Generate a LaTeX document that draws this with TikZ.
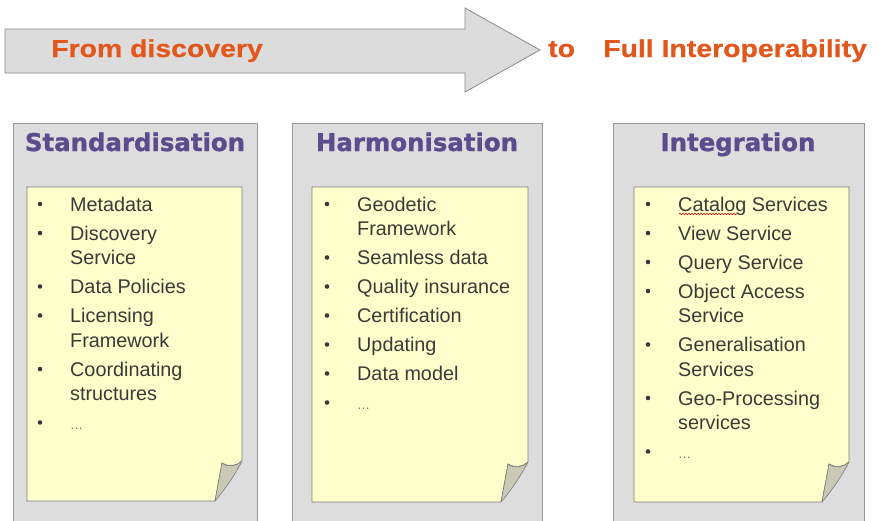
\documentclass[tikz,border=0pt]{standalone}
\usepackage{fontspec}
\setmainfont{Liberation Sans}
\newfontfamily\bannerfont[FakeStretch=1.16,FakeBold=0.6]{Liberation Sans}
\newfontfamily\titlefont[FakeBold=1.3]{DejaVu Sans}
\usetikzlibrary{decorations.pathmorphing}
\definecolor{arrowfill}{HTML}{DCDCDC}
\definecolor{arrowborder}{HTML}{8A8A8A}
\definecolor{orangetxt}{HTML}{E2581C}
\definecolor{panelfill}{HTML}{DDDDDD}
\definecolor{panelborder}{HTML}{9A9A9A}
\definecolor{titlecol}{HTML}{5C4C8E}
\definecolor{notefill}{HTML}{FFFFCC}
\definecolor{noteborder}{HTML}{7A7A7A}
\definecolor{flapfill}{HTML}{C9C9B6}
\definecolor{itemcol}{HTML}{3A3A3A}
\newcommand\stickynote[4]{%
  \path[note] (#1,#2) -- (#3,#2) -- (#3,#4-40)
     .. controls (#3-5,#4-35) and (#3-14,#4-34) .. (#3-20,#4-38)
     -- (#3-27,#4) -- (#1,#4) -- cycle;
  \path[flap] (#3-20,#4-38) .. controls (#3-14,#4-33) and (#3-5,#4-35) .. (#3,#4-40)
     .. controls (#3-7,#4-26) and (#3-19,#4-9) .. (#3-27,#4) -- cycle;
}
\begin{document}
\begin{tikzpicture}[x=1pt,y=-1pt,
  banner/.style={draw=arrowborder, fill=arrowfill, line width=0.8pt, line join=miter},
  bannertext/.style={font=\bannerfont\bfseries\fontsize{24.5}{28}\selectfont, text=orangetxt, inner sep=0pt, anchor=base west},
  panel/.style={draw=panelborder, fill=panelfill, line width=0.8pt},
  title/.style={font=\titlefont\bfseries\fontsize{24.4}{28}\selectfont, text=titlecol, inner sep=0pt, anchor=base},
  note/.style={draw=noteborder, fill=notefill, line width=0.6pt},
  flap/.style={draw=noteborder, fill=flapfill, line width=0.6pt, line join=round},
  dot/.style={circle, fill=itemcol, inner sep=0pt, minimum size=4.6pt},
  itm/.style={font=\fontsize{19.8}{24}\selectfont, text=itemcol, inner sep=0pt, anchor=base west}
]
\useasboundingbox (0,0) rectangle (879,520);
\clip (0,0) rectangle (879,520);
\fill[white] (0,0) rectangle (879,520);

% banner arrow
\path[banner] (5,29) -- (465,29) -- (465,8) -- (540,50) -- (465,92) -- (465,73) -- (5,73) -- cycle;
\node[bannertext] (from) at (51,57) {From discovery};
\node[bannertext] (to) at (548,57) {to};
\node[bannertext] (full) at (603,57) {Full Interoperability};

% panels
\path[panel] (13,123) rectangle (257,530);
\path[panel] (292,123) rectangle (542,530);
\path[panel] (613,123) rectangle (864,530);

\node[title] (t1) at (135,151) {Standardisation};
\node[title] (t2) at (417,151) {Harmonisation};
\node[title] (t3) at (738,151) {Integration};

\stickynote{27}{187}{242}{501}
\stickynote{312}{187}{528}{502}
\stickynote{634}{187}{849}{502}

% panel 1 items
\foreach \y/\n in {211/a1,240/a2,293.5/a3,322.5/a4,376/a5,429.5/a6}
  \node[dot] (b\n) at (40,\y-7) {};
\node[itm] (i1a) at (70,211) {Metadata};
\node[itm] (i1b) at (70,240) {Discovery};
\node[itm] (i1c) at (70,264.5) {Service};
\node[itm] (i1d) at (70,293.5) {Data Policies};
\node[itm] (i1e) at (70,322.5) {Licensing};
\node[itm] (i1f) at (70,347) {Framework};
\node[itm] (i1g) at (70,376) {Coordinating};
\node[itm] (i1h) at (70,400.5) {structures};
\node[itm, text=itemcol!70] (i1i) at (70,429.5) {\fontsize{13}{14}\selectfont\dots};

% panel 2 items
\foreach \y/\n in {211/c1,264.5/c2,293.5/c3,322.5/c4,351.5/c5,380.5/c6,409.5/c7}
  \node[dot] (b\n) at (327,\y-7) {};
\node[itm] (i2a) at (357,211) {Geodetic};
\node[itm] (i2b) at (357,235.5) {Framework};
\node[itm] (i2c) at (357,264.5) {Seamless data};
\node[itm] (i2d) at (357,293.5) {Quality insurance};
\node[itm] (i2e) at (357,322.5) {Certification};
\node[itm] (i2f) at (357,351.5) {Updating};
\node[itm] (i2g) at (357,380.5) {Data model};
\node[itm, text=itemcol!70] (i2h) at (357,409.5) {\fontsize{13}{14}\selectfont\dots};

% panel 3 items
\foreach \y/\n in {211/e1,240/e2,269/e3,298/e4,351.5/e5,405/e6,458.5/e7}
  \node[dot] (b\n) at (648,\y-7) {};
\node[itm] (i3a) at (678,211) {Catalog Services};
\node[itm] (i3b) at (678,240) {View Service};
\node[itm] (i3c) at (678,269) {Query Service};
\node[itm] (i3d) at (678,298) {Object Access};
\node[itm] (i3e) at (678,322.5) {Service};
\node[itm] (i3f) at (678,351.5) {Generalisation};
\node[itm] (i3g) at (678,376) {Services};
\node[itm] (i3h) at (678,405) {Geo-Processing};
\node[itm] (i3i) at (678,429.5) {services};
\node[itm, text=itemcol!70] (i3j) at (678,458.5) {\fontsize{13}{14}\selectfont\dots};

\coordinate (sq1) at (679,214);
\coordinate (sq2) at (737,214);
\draw[red!80!black, line width=0.6pt, decorate, decoration={snake, amplitude=0.7pt, segment length=3pt}] (sq1) -- (sq2);
\end{tikzpicture}
\end{document}
